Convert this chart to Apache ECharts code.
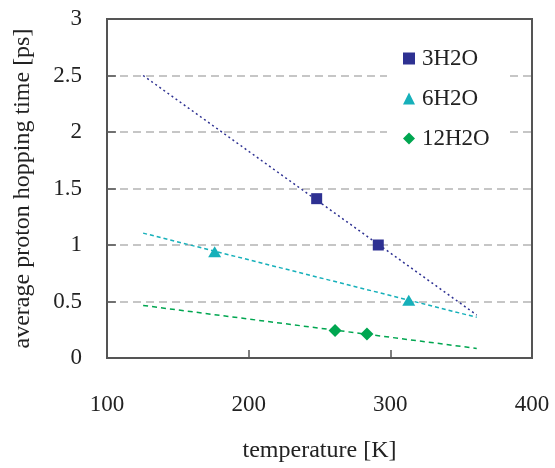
<!DOCTYPE html>
<html>
<head>
<meta charset="utf-8">
<script src="https://cdn.jsdelivr.net/npm/echarts@6/dist/echarts.min.js"></script>
<style>
  html, body { margin: 0; padding: 0; background: #fff; }
  #chart { width: 555px; height: 468px; }
</style>
</head>
<body>
<div id="chart"></div>
<script>
// measured points [temperature K, time ps]
const h3 = [[248, 1.41], [291.5, 1.0]]
const h6 = [[176, 0.94], [313, 0.51]]
const h12 = [[261, 0.243], [283.5, 0.213]]

// trendline end points
const h3Trend = [[125.5, 2.5], [361, 0.38]]
const h6Trend = [[125.5, 1.105], [361, 0.36]]
const h12Trend = [[125.5, 0.465], [361, 0.085]]

const xTicks = [100, 200, 300, 400]
const yTicks = [0, 0.5, 1, 1.5, 2, 2.5, 3]

const font = 'Liberation Serif'
const c3 = '#2e3192'
const c6 = '#16b0ba'
const c12 = '#00a650'
const axisColor = '#555'

const chart = echarts.init(document.getElementById('chart'))

function trend(data, color, dash) {
  return {
    type: 'line',
    data,
    symbol: 'none',
    silent: true,
    lineStyle: { color, width: 1.5, type: dash },
    z: 1
  }
}

// extra axes only used to draw the top and right frame lines
const frame = {
  show: true,
  axisLine: { show: true, onZero: false, lineStyle: { color: axisColor, width: 2 } },
  axisTick: { show: false },
  axisLabel: { show: true, inside: true, color: 'rgba(0,0,0,0)' },
  splitLine: { show: false }
}

chart.setOption({
  animation: false,
  textStyle: { fontFamily: font },
  grid: {
    left: 107, right: 23, top: 19, bottom: 106,
    show: true, borderColor: axisColor, borderWidth: 2
  },
  legend: {
    data: ['3H2O', '6H2O', '12H2O'],
    orient: 'vertical',
    left: 387, top: 39,
    padding: [8, 16, 8, 16],
    backgroundColor: '#fff',
    itemWidth: 12, itemHeight: 12,
    itemGap: 17,
    textStyle: { fontFamily: font, fontSize: 23, color: '#222', padding: [0, 0, 0, 2] }
  },
  xAxis: [{
    type: 'value',
    min: xTicks[0], max: xTicks[xTicks.length - 1], interval: 100,
    name: 'temperature [K]',
    nameLocation: 'middle', nameGap: 81,
    nameTextStyle: { fontFamily: font, fontSize: 24, color: '#222' },
    axisLine: { onZero: false, lineStyle: { color: axisColor, width: 1.5 } },
    axisTick: { inside: true, length: 8, lineStyle: { color: axisColor, width: 1.5 } },
    axisLabel: { margin: 35, fontFamily: font, fontSize: 23, color: '#222' },
    splitLine: { show: false }
  }, {
    type: 'value', position: 'top',
    min: xTicks[0], max: xTicks[xTicks.length - 1], interval: 100,
    ...frame
  }],
  yAxis: [{
    type: 'value',
    min: yTicks[0], max: yTicks[yTicks.length - 1], interval: 0.5,
    name: 'average proton hopping time [ps]',
    nameLocation: 'middle', nameGap: 72,
    nameTextStyle: { fontFamily: font, fontSize: 24, color: '#222' },
    axisLine: { show: true, onZero: false, lineStyle: { color: axisColor, width: 1.5 } },
    axisTick: { show: true, inside: true, length: 9, lineStyle: { color: axisColor, width: 1.5 } },
    axisLabel: { margin: 25, fontFamily: font, fontSize: 23, color: '#222' },
    splitLine: {
      show: true, showMinLine: false, showMaxLine: false,
      lineStyle: { color: '#b4b4b4', width: 1.5, type: [8, 5] }
    }
  }, {
    type: 'value', position: 'right',
    min: yTicks[0], max: yTicks[yTicks.length - 1], interval: 0.5,
    ...frame
  }],
  series: [
    trend(h3Trend, c3, [2, 3]),
    trend(h6Trend, c6, [4, 3]),
    trend(h12Trend, c12, [5, 4]),
    { name: '3H2O', type: 'scatter', data: h3, symbol: 'rect', symbolSize: 11, itemStyle: { color: c3, opacity: 1 }, z: 3 },
    { name: '6H2O', type: 'scatter', data: h6, symbol: 'triangle', symbolSize: [13, 11], itemStyle: { color: c6, opacity: 1 }, z: 3 },
    { name: '12H2O', type: 'scatter', data: h12, symbol: 'diamond', symbolSize: 13, itemStyle: { color: c12, opacity: 1 }, z: 3 }
  ]
})
</script>
</body>
</html>
